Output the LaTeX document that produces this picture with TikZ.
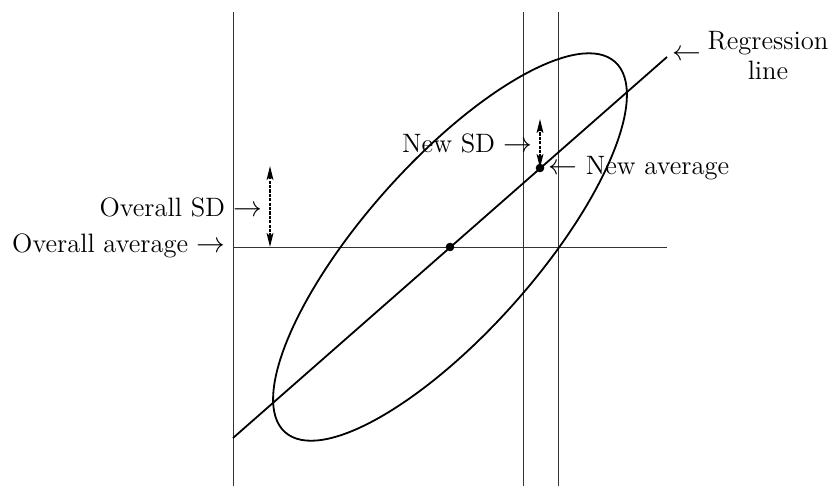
\documentclass[tikz,border=0pt]{standalone}
\usetikzlibrary{arrows.meta}
\begin{document}
\begin{tikzpicture}[x=0.5pt,y=0.5pt,
  font=\fontsize{13.3}{16}\selectfont,
  thinline/.style={line width=0.45pt, draw=black!80},
  mainline/.style={line width=0.9pt},
  sdarrow/.style={line width=0.8pt, dash pattern=on 1.6pt off 0.6pt,
    {Stealth[length=7pt,width=3.4pt,inset=1.5pt]}-{Stealth[length=7pt,width=3.4pt,inset=1.5pt]}},
  dot/.style={circle, fill, inner sep=0pt, minimum size=4.3pt},
  lbl/.style={inner sep=0pt}]
\useasboundingbox (0,0) rectangle (834,486);
% vertical lines
\coordinate (V1t) at (233,474); \coordinate (V1b) at (233,0);
\coordinate (V2t) at (523,474); \coordinate (V2b) at (523,0);
\coordinate (V3t) at (558,474); \coordinate (V3b) at (558,0);
\draw[thinline] (V1t) -- (V1b);
\draw[thinline] (V2t) -- (V2b);
\draw[thinline] (V3t) -- (V3b);
% horizontal line
\coordinate (H0) at (233,239); \coordinate (H1) at (667,239);
\draw[thinline] (H0) -- (H1);
% regression line
\coordinate (R0) at (233,48); \coordinate (R1) at (667,429);
\draw[mainline] (R0) -- (R1);
% points
\node[dot] (c) at (450,239) {};
\node[dot] (na) at (540,318) {};
% ellipse
\draw[mainline, rotate around={48.3:(c.center)}] (c.center) ellipse [x radius=124pt, y radius=42.7pt];
% SD arrows
\coordinate (os0) at (270,239); \coordinate (os1) at (270,320);
\draw[sdarrow] (os0) -- (os1);
\coordinate (ns1) at (540,367);
\draw[sdarrow] (na.center) -- (ns1);
% labels
\node[lbl, anchor=base east] (oa) at (226,233) {Overall average $\rightarrow$};
\node[lbl, anchor=base east] (osd) at (263,269) {Overall SD $\rightarrow$};
\node[lbl, anchor=base east] (nsd) at (533,333) {New SD $\rightarrow$};
\node[lbl, anchor=base west] (nav) at (548,311) {$\leftarrow$ New average};
\node[lbl, anchor=base west] (rarr) at (672,425) {$\leftarrow$};
\node[lbl, align=center, anchor=north, font=\fontsize{13.3}{15.2}\selectfont] (rtxt) at (768,455) {Regression\\line};
\end{tikzpicture}
\end{document}
